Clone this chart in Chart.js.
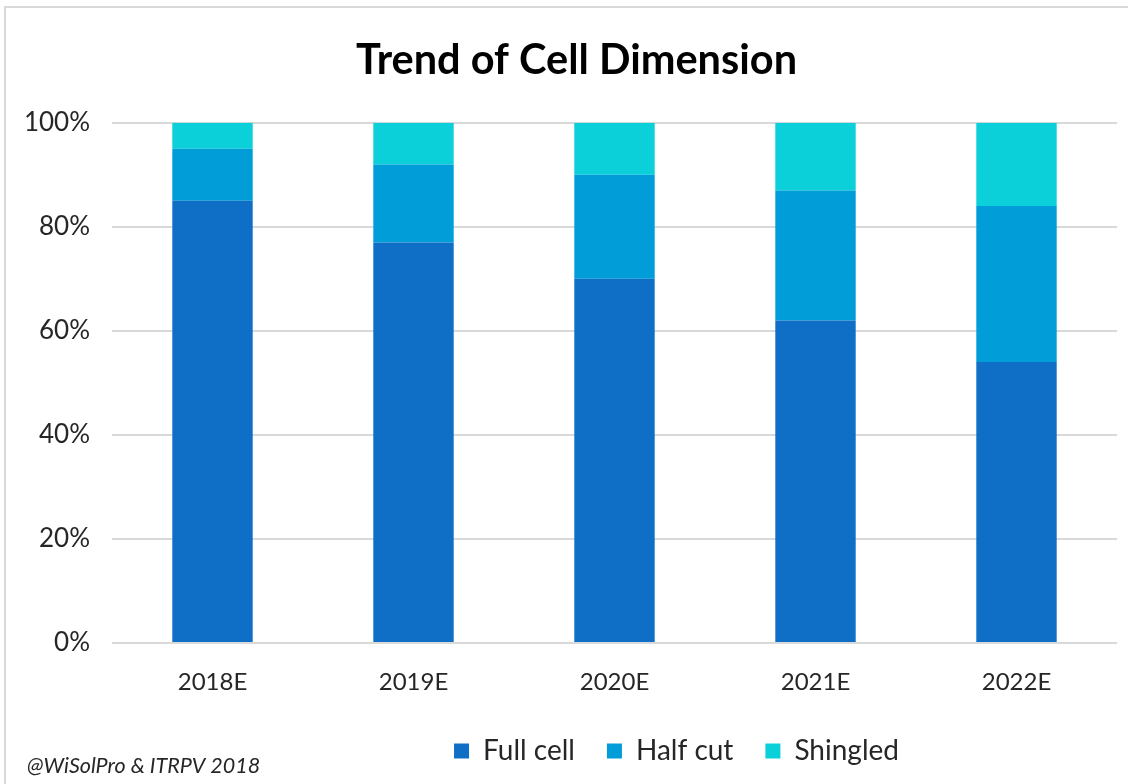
<!DOCTYPE html>
<html>
<head>
<meta charset="utf-8">
<script src="https://cdn.jsdelivr.net/npm/chart.js@4/dist/chart.umd.min.js"></script>
<style>
  html, body { margin: 0; padding: 0; background: #fff; }
  #wrap { position: absolute; left: 0; top: 0; width: 1128px; height: 784px; }
  #frame { position: absolute; left: 4px; top: 6px; width: 1124px; height: 778px;
           border-top: 2px solid #d9d9d9; border-left: 2px solid #d9d9d9; box-sizing: border-box; pointer-events: none; }
</style>
</head>
<body>
<div id="wrap">
  <canvas id="chart" width="1128" height="784"></canvas>
  <div id="frame"></div>
</div>
<script>
const categories = ['2018E', '2019E', '2020E', '2021E', '2022E'];
const fullCell = [85, 77, 70, 62, 54];
const halfCut = [10, 15, 20, 25, 30];
const shingled = [5, 8, 10, 13, 16];
const yTicks = [0, 20, 40, 60, 80, 100];

const FONT = 'Lato, "Liberation Sans", sans-serif';

// footnote in the bottom left corner
const footnote = {
  id: 'footnote',
  afterDraw(chart) {
    const ctx = chart.ctx;
    ctx.save();
    ctx.font = 'italic 21.5px ' + FONT;
    ctx.fillStyle = '#262626';
    ctx.textBaseline = 'middle';
    ctx.textAlign = 'left';
    ctx.fillText('@WiSolPro & ITRPV 2018', 27, 766);
    ctx.restore();
  }
};

// fixed legend height, then nudge legend and title to where the reference has them
const placeBoxes = {
  id: 'placeBoxes',
  beforeInit(chart) {
    const lg = chart.legend;
    const fit = lg.fit;
    lg.fit = function () {
      fit.call(this);
      this.height = 79;
    };
  },
  afterLayout(chart) {
    const lg = chart.legend;
    lg.left += 113;
    lg.right += 113;
    lg.top = 705;
    lg.bottom = 784;
    chart.titleBlock.left += 13;
    chart.titleBlock.right += 13;
  }
};

new Chart(document.getElementById('chart'), {
  type: 'bar',
  data: {
    labels: categories,
    datasets: [
      { label: 'Full cell', data: fullCell, backgroundColor: '#0F6FC6' },
      { label: 'Half cut', data: halfCut, backgroundColor: '#009DD9' },
      { label: 'Shingled', data: shingled, backgroundColor: '#0BD0D9' }
    ]
  },
  options: {
    responsive: false,
    animation: false,
    layout: { padding: { left: 10, right: 11, top: 36, bottom: 8 } },
    datasets: { bar: { categoryPercentage: 1, barPercentage: 0.4 } },
    plugins: {
      title: {
        display: true,
        text: 'Trend of Cell Dimension',
        color: '#000',
        font: { family: FONT, size: 41.5, weight: 'bold' },
        padding: { top: 0, bottom: 37 }
      },
      legend: {
        position: 'bottom',
        labels: {
          color: '#262626',
          font: { family: FONT, size: 28 },
          boxWidth: 15,
          boxHeight: 15,
          padding: 32
        }
      },
      tooltip: { enabled: false }
    },
    scales: {
      x: {
        stacked: true,
        afterFit(scale) { scale.height = 54; },
        grid: { display: false },
        border: { display: false },
        ticks: { color: '#262626', font: { family: FONT, size: 24 }, padding: 17 }
      },
      y: {
        stacked: true,
        min: 0,
        max: 100,
        afterBuildTicks(scale) { scale.ticks = yTicks.map(v => ({ value: v })); },
        afterFit(scale) { scale.width = 102; },
        grid: { color: '#d9d9d9', lineWidth: 2, drawTicks: false },
        border: { display: false },
        ticks: { color: '#262626', font: { family: FONT, size: 26 }, padding: 22,
                 callback: v => v + '%' }
      }
    }
  },
  plugins: [footnote, placeBoxes]
});
</script>
</body>
</html>
